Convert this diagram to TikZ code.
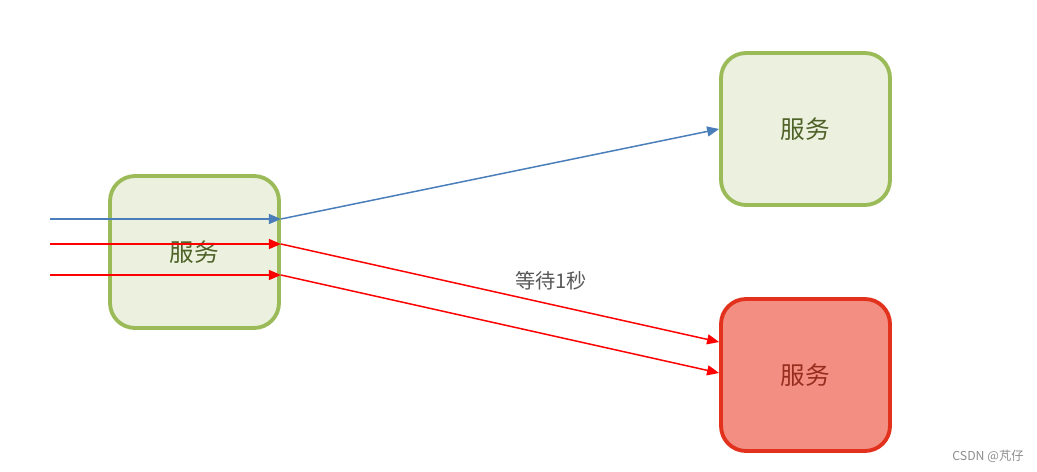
\documentclass[tikz,border=0pt]{standalone}
\usepackage{fontspec}
\newfontfamily\cjk{Noto Sans CJK SC}
\definecolor{svcGreen}{RGB}{155,187,89}
\definecolor{svcGreenFill}{RGB}{235,241,222}
\definecolor{svcGreenText}{RGB}{79,98,40}
\definecolor{svcRed}{RGB}{226,50,30}
\definecolor{svcRedFill}{RGB}{242,143,130}
\definecolor{svcRedText}{RGB}{150,45,30}
\definecolor{callBlue}{RGB}{74,126,187}
\usetikzlibrary{arrows.meta,positioning,calc}

\begin{document}
\begin{tikzpicture}[x=0.02cm, y=-0.02cm,
    service/.style={rectangle, rounded corners=0.5cm, draw=svcGreen, fill=svcGreenFill,
                    minimum width=3.38cm, minimum height=3.04cm, line width=2.2pt,
                    font=\cjk\fontsize{14pt}{16pt}\selectfont, text=svcGreenText},
    failed/.style={service, draw=svcRed, fill=svcRedFill, text=svcRedText},
    call/.style={-{Triangle[length=0.24cm, width=0.2cm]}, line width=0.85pt},
    ok/.style={call, draw=callBlue},
    wait/.style={call, draw=red}
  ]
  \useasboundingbox (0,0) rectangle (1037,471);

  % services
  \node[service] (src)  at (194.5,252) {服务};
  \node[service] (good) at (805.5,129) {服务};
  \node[failed]  (slow) at (805.5,375) {服务};

  % incoming requests
  \coordinate (in1) at (50,219);
  \coordinate (in2) at (50,244);
  \coordinate (in3) at (50,275);
  \coordinate (out1) at (src.east |- in1);
  \coordinate (out2) at (src.east |- in2);
  \coordinate (out3) at (src.east |- in3);
  \coordinate (hit2) at ($(slow.west)+(0,-33)$);
  \coordinate (hit3) at ($(slow.west)+(0,-2)$);

  % calls
  \draw[ok] (in1) -- (out1);
  \draw[wait] (in2) -- (out2);
  \draw[wait] (in3) -- (out3);
  \draw[ok] (out1) -- (good.west);
  \draw[wait] (out2) -- (hit2);
  \draw[wait] (out3) -- (hit3);

  % labels
  \node[font=\cjk\fontsize{11.5pt}{13pt}\selectfont, text=black!65] (delay) at (551,281) {等待1秒};
  \node[font=\cjk\fontsize{7pt}{8pt}\selectfont, text=black!45] (mark) at (988,456) {CSDN @芃仔};
\end{tikzpicture}
\end{document}
